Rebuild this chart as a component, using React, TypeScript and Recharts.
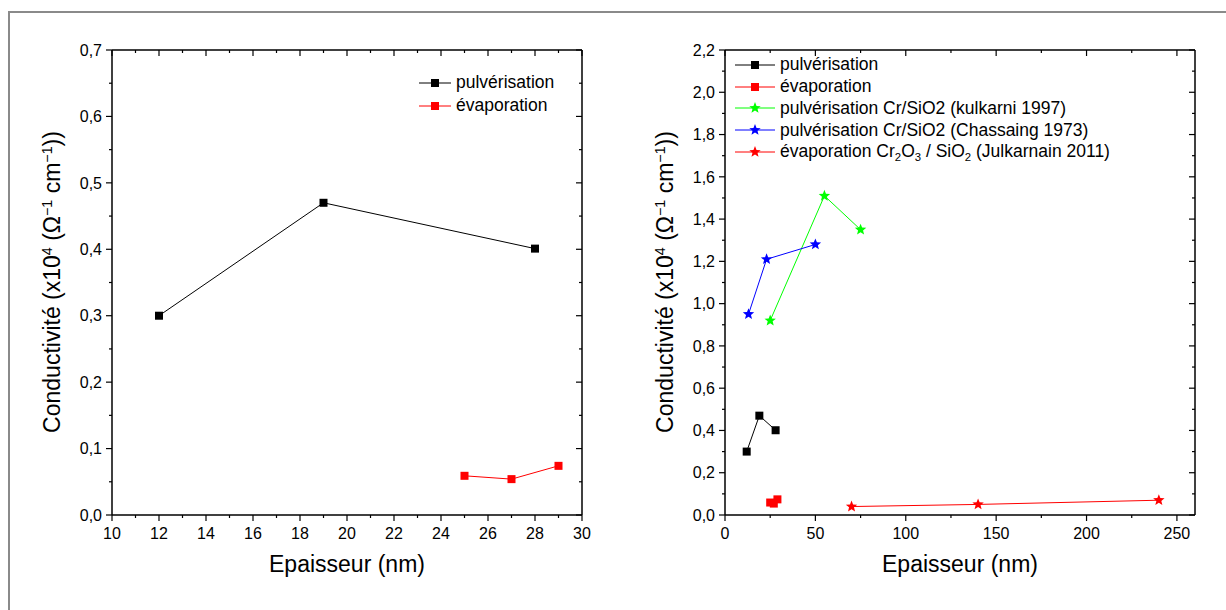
import { LineChart, Line, XAxis, YAxis } from 'recharts'

const FONT = '"Liberation Sans", Arial, Helvetica, sans-serif'

// épaisseur (nm) -> conductivité (x10^4 ohm-1 cm-1)
const pulvX = [12, 19, 28]
const pulvY = [0.3, 0.47, 0.401]
const evapX = [25, 27, 29]
const evapY = [0.059, 0.054, 0.074]
const kulkarniX = [25, 55, 75]
const kulkarniY = [0.92, 1.51, 1.35]
const chassaingX = [13, 23, 50]
const chassaingY = [0.95, 1.21, 1.28]
const julkarnainX = [70, 140, 240]
const julkarnainY = [0.04, 0.05, 0.07]

// ticks
const leftXMajor = [10, 12, 14, 16, 18, 20, 22, 24, 26, 28, 30]
const leftXMinor = [11, 13, 15, 17, 19, 21, 23, 25, 27, 29]
const leftYMajor = [0, 0.1, 0.2, 0.3, 0.4, 0.5, 0.6, 0.7]
const leftYMinor = [0.05, 0.15, 0.25, 0.35, 0.45, 0.55, 0.65]
const rightXMajor = [0, 50, 100, 150, 200, 250]
const rightXMinor = [25, 75, 125, 175, 225]
const rightYMajor = [0, 0.2, 0.4, 0.6, 0.8, 1.0, 1.2, 1.4, 1.6, 1.8, 2.0, 2.2]
const rightYMinor = [0.1, 0.3, 0.5, 0.7, 0.9, 1.1, 1.3, 1.5, 1.7, 1.9, 2.1]

const toPts = (xs: number[], ys: number[]) => xs.map((x, i) => ({ x, y: ys[i] }))
const fmtInt = (v: number) => String(v)
const fmtDec = (v: number) => v.toFixed(1).replace('.', ',')

type Marker = 'square' | 'star'
type Series = { name: string; color: string; marker: Marker; data: { x: number; y: number }[] }

const leftSeries: Series[] = [
  { name: 'pulv', color: '#000000', marker: 'square', data: toPts(pulvX, pulvY) },
  { name: 'evap', color: '#ff0000', marker: 'square', data: toPts(evapX, evapY) },
]
const rightSeries: Series[] = [
  ...leftSeries,
  { name: 'kulkarni', color: '#00ff00', marker: 'star', data: toPts(kulkarniX, kulkarniY) },
  { name: 'chassaing', color: '#0000ff', marker: 'star', data: toPts(chassaingX, chassaingY) },
  { name: 'julkarnain', color: '#ff0000', marker: 'star', data: toPts(julkarnainX, julkarnainY) },
]

function starPoints(cx: number, cy: number, R: number, r: number) {
  const pts: string[] = []
  for (let i = 0; i < 10; i++) {
    const rad = i % 2 === 0 ? R : r
    const a = -Math.PI / 2 + (i * Math.PI) / 5
    pts.push(`${cx + rad * Math.cos(a)},${cy + rad * Math.sin(a)}`)
  }
  return pts.join(' ')
}

function MarkerShape({ cx, cy, color, marker }: { cx: number; cy: number; color: string; marker: Marker }) {
  if (marker === 'square') return <rect x={cx - 4} y={cy - 4} width={8} height={8} fill={color} />
  return <polygon points={starPoints(cx, cy, 6, 2.6)} fill={color} />
}

type Side = 'bottom' | 'top' | 'left' | 'right'

const makeTick = (side: Side, major: number[], fmt: (v: number) => string) => (p: any) => {
  const { x, y, payload } = p
  const isMajor = major.includes(payload.value)
  const len = isMajor ? 6 : 3
  const lineProps = { stroke: '#000', strokeWidth: 1.2 }
  if (side === 'bottom')
    return (
      <g>
        <line x1={x} x2={x} y1={y} y2={y + len} {...lineProps} />
        {isMajor && (
          <text x={x} y={y + 24} textAnchor="middle" fontFamily={FONT} fontSize={16} fill="#000">
            {fmt(payload.value)}
          </text>
        )}
      </g>
    )
  if (side === 'top') return <line x1={x} x2={x} y1={y} y2={y + len} {...lineProps} />
  if (side === 'left')
    return (
      <g>
        <line x1={x} x2={x - len} y1={y} y2={y} {...lineProps} />
        {isMajor && (
          <text x={x - 10} y={y} dy="0.36em" textAnchor="end" fontFamily={FONT} fontSize={16} fill="#000">
            {fmt(payload.value)}
          </text>
        )}
      </g>
    )
  return <line x1={x} x2={x - len} y1={y} y2={y} {...lineProps} />
}

const AXIS = { stroke: '#000', strokeWidth: 1.5 }

function Panel({
  xDomain, yDomain, xMajor, xMinor, yMajor, yMinor, xFmt, series,
}: {
  xDomain: [number, number]
  yDomain: [number, number]
  xMajor: number[]
  xMinor: number[]
  yMajor: number[]
  yMinor: number[]
  xFmt: (v: number) => string
  series: Series[]
}) {
  const xTicks = [...xMajor, ...xMinor].sort((a, b) => a - b)
  const yTicks = [...yMajor, ...yMinor].sort((a, b) => a - b)
  const common = { type: 'number' as const, allowDataOverflow: true, interval: 0 as const, tickSize: 0, tickMargin: 0, tickLine: false, axisLine: AXIS }
  return (
    <LineChart width={613} height={610} margin={{ top: 49, right: 30, bottom: 94, left: 111 }}>
      <XAxis xAxisId="b" dataKey="x" domain={xDomain} ticks={xTicks} height={1} {...common} tick={makeTick('bottom', xMajor, xFmt)} />
      <XAxis xAxisId="t" orientation="top" dataKey="x" domain={xDomain} ticks={xTicks} height={1} {...common} tick={makeTick('top', xMajor, xFmt)} />
      <YAxis yAxisId="l" domain={yDomain} ticks={yTicks} width={1} {...common} tick={makeTick('left', yMajor, fmtDec)} />
      <YAxis yAxisId="r" orientation="right" domain={yDomain} ticks={yTicks} width={1} {...common} tick={makeTick('right', yMajor, fmtDec)} />
      {series.map((s) => (
        <Line
          key={s.name}
          xAxisId="b"
          yAxisId="l"
          data={s.data}
          dataKey="y"
          stroke={s.color}
          strokeWidth={1}
          activeDot={false}
          isAnimationActive={false}
          dot={(d: any) => <MarkerShape key={`${s.name}-${d.index}`} cx={d.cx} cy={d.cy} color={s.color} marker={s.marker} />}
        />
      ))}
    </LineChart>
  )
}

function LegendIcon({ color, marker, w }: { color: string; marker: Marker; w: number }) {
  return (
    <svg width={w} height={14} style={{ display: 'block', flex: 'none' }}>
      <line x1={0} x2={w} y1={7} y2={7} stroke={color} strokeWidth={1} />
      <MarkerShape cx={w / 2} cy={7} color={color} marker={marker} />
    </svg>
  )
}

type LegendRow = { color: string; marker: Marker; label: React.ReactNode }

function LegendBox({ left, top, rowH, iconW, rows }: { left: number; top: number; rowH: number; iconW: number; rows: LegendRow[] }) {
  return (
    <div style={{ position: 'absolute', left, top, fontFamily: FONT, fontSize: 17.5, color: '#000' }}>
      {rows.map((r, i) => (
        <div key={i} style={{ display: 'flex', alignItems: 'center', height: rowH, whiteSpace: 'nowrap' }}>
          <LegendIcon color={r.color} marker={r.marker} w={iconW} />
          <span style={{ marginLeft: 5 }}>{r.label}</span>
        </div>
      ))}
    </div>
  )
}

const supStyle = { fontSize: '0.62em', verticalAlign: '0.55em' }

function YTitle({ cx }: { cx: number }) {
  return (
    <div
      style={{
        position: 'absolute', left: cx - 250, top: 282 - 14, width: 500, height: 28, lineHeight: '28px',
        textAlign: 'center', fontFamily: FONT, fontSize: 23, transform: 'rotate(-90deg)', whiteSpace: 'nowrap',
      }}
    >
      Conductivité (x10<span style={supStyle}>4</span> (Ω<span style={supStyle}>−1</span> cm<span style={supStyle}>−1</span>))
    </div>
  )
}

function XTitle({ left }: { left: number }) {
  return (
    <div style={{ position: 'absolute', left, top: 551, width: 470, textAlign: 'center', fontFamily: FONT, fontSize: 23 }}>
      Epaisseur (nm)
    </div>
  )
}

const subStyle = { fontSize: '0.65em', verticalAlign: '-0.35em' }

export default function App() {
  const leftRows: LegendRow[] = [
    { color: '#000000', marker: 'square', label: 'pulvérisation' },
    { color: '#ff0000', marker: 'square', label: 'évaporation' },
  ]
  const rightRows: LegendRow[] = [
    ...leftRows,
    { color: '#00ff00', marker: 'star', label: 'pulvérisation Cr/SiO2 (kulkarni 1997)' },
    { color: '#0000ff', marker: 'star', label: 'pulvérisation Cr/SiO2 (Chassaing 1973)' },
    {
      color: '#ff0000', marker: 'star',
      label: (
        <>
          évaporation Cr<span style={subStyle}>2</span>O<span style={subStyle}>3</span> / SiO<span style={subStyle}>2</span> (Julkarnain 2011)
        </>
      ),
    },
  ]
  return (
    <div style={{ position: 'relative', width: 1226, height: 610, overflow: 'hidden', background: '#fff' }}>
      <style>{'body{margin:0}'}</style>
      <div style={{ position: 'absolute', left: 8, top: 11, width: 1240, height: 640, border: '2px solid #8a8a8a' }} />
      <div style={{ position: 'absolute', left: 0, top: 0 }}>
        <Panel xDomain={[10, 30]} yDomain={[0, 0.7]} xMajor={leftXMajor} xMinor={leftXMinor} yMajor={leftYMajor} yMinor={leftYMinor} xFmt={fmtInt} series={leftSeries} />
      </div>
      <div style={{ position: 'absolute', left: 613, top: 0 }}>
        <Panel xDomain={[0, 260]} yDomain={[0, 2.2]} xMajor={rightXMajor} xMinor={rightXMinor} yMajor={rightYMajor} yMinor={rightYMinor} xFmt={fmtInt} series={rightSeries} />
      </div>
      <YTitle cx={47} />
      <YTitle cx={660} />
      <XTitle left={112} />
      <XTitle left={725} />
      <LegendBox left={419} top={71} rowH={23} iconW={32} rows={leftRows} />
      <LegendBox left={735} top={54} rowH={21.75} iconW={40} rows={rightRows} />
    </div>
  )
}
